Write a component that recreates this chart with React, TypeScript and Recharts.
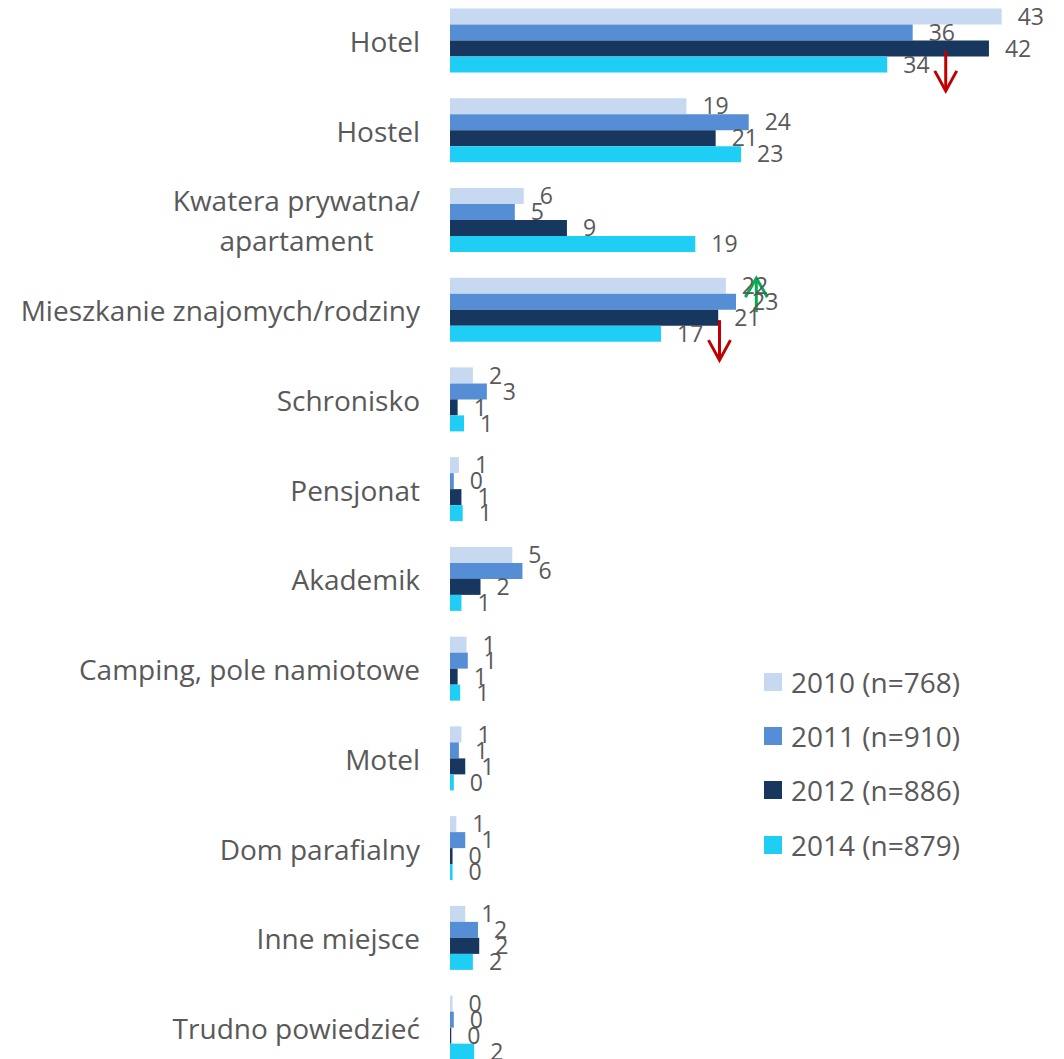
import React from 'react';
import { BarChart, Bar, XAxis, YAxis, LabelList, Legend, ReferenceDot } from 'recharts';

const categories = [
  'Hotel',
  'Hostel',
  'Kwatera prywatna/\napartament',
  'Mieszkanie znajomych/rodziny',
  'Schronisko',
  'Pensjonat',
  'Akademik',
  'Camping, pole namiotowe',
  'Motel',
  'Dom parafialny',
  'Inne miejsce',
  'Trudno powiedzieć',
];

const values2010 = [43.4, 18.6, 5.8, 21.7, 1.8, 0.7, 4.9, 1.3, 0.9, 0.5, 1.2, 0.2];
const values2011 = [36.4, 23.5, 5.1, 22.5, 2.9, 0.3, 5.7, 1.4, 0.7, 1.2, 2.2, 0.3];
const values2012 = [42.4, 20.9, 9.2, 21.1, 0.6, 0.9, 2.4, 0.6, 1.2, 0.2, 2.3, 0.1];
const values2014 = [34.4, 22.9, 19.3, 16.6, 1.1, 1.0, 0.9, 0.8, 0.3, 0.2, 1.8, 1.9];

const seriesKeys = ['y2010', 'y2011', 'y2012', 'y2014'];
const seriesNames = ['2010 (n=768)', '2011 (n=910)', '2012 (n=886)', '2014 (n=879)'];
const seriesColors = ['#C6D9F0', '#558ED5', '#17375E', '#1FCEF5'];

// change markers drawn over the bars
const arrowCategories = ['Hotel', 'Mieszkanie znajomych/rodziny', 'Mieszkanie znajomych/rodziny'];
const arrowValues = [39, 21.2, 24.1];
const arrowDirections = ['down', 'down', 'up'];

const data = categories.map((name, i) => ({
  name,
  y2010: values2010[i],
  y2011: values2011[i],
  y2012: values2012[i],
  y2014: values2014[i],
}));

const FONT = '"Open Sans", sans-serif';
const TEXT = '#595959';

let measureCtx: CanvasRenderingContext2D | null = null;
const textWidth = (t: string, font: string) => {
  if (!measureCtx) measureCtx = document.createElement('canvas').getContext('2d');
  if (!measureCtx) return t.length * 14;
  measureCtx.font = font;
  return measureCtx.measureText(t).width;
};

const CategoryTick = (props: any) => {
  const { x, y, payload } = props;
  const lines = String(payload.value).split('\n');
  if (lines.length === 1) {
    return (
      <text x={x} y={y} textAnchor="end" dominantBaseline="central" fill={TEXT} fontSize={28} fontFamily={FONT}>
        {lines[0]}
      </text>
    );
  }
  const w = Math.max(...lines.map((l) => textWidth(l, '28px "Open Sans"')));
  const cx = x - w / 2;
  return (
    <text textAnchor="middle" dominantBaseline="central" fill={TEXT} fontSize={28} fontFamily={FONT}>
      {lines.map((l, i) => (
        <tspan key={i} x={cx} y={y + (i - (lines.length - 1) / 2) * 40}>
          {l}
        </tspan>
      ))}
    </text>
  );
};

const Arrow = ({ cx, cy, dir }: any) => {
  if (cx == null || cy == null) return null;
  const color = dir === 'up' ? '#00B050' : '#C00000';
  const y1 = dir === 'up' ? cy + 2 : cy + 10;
  const y2 = dir === 'up' ? cy - 32 : cy + 50;
  const hy = dir === 'up' ? y2 + 19 : y2 - 20;
  return (
    <g>
      <line x1={cx} y1={y1} x2={cx} y2={y2} stroke={color} strokeWidth={3} />
      <polyline points={`${cx - 11},${hy} ${cx},${y2} ${cx + 11},${hy}`} fill="none" stroke={color} strokeWidth={3} />
    </g>
  );
};

const renderLegend = (props: any) => {
  const { payload } = props;
  return (
    <div>
      {(payload || []).map((p: any, i: number) => (
        <div key={i} style={{ display: 'flex', alignItems: 'center', height: 54.4 }}>
          <span style={{ display: 'inline-block', width: 18, height: 18, background: p.color, marginRight: 9 }} />
          <span style={{ fontSize: 28, color: TEXT, fontFamily: FONT, lineHeight: 1, whiteSpace: 'nowrap' }}>{p.value}</span>
        </div>
      ))}
    </div>
  );
};

export default function App() {
  return (
    <div style={{ position: 'absolute', left: 0, top: 0, width: 1064, height: 1059, overflow: 'hidden', background: '#fff' }}>
      <div style={{ position: 'absolute', left: 0, top: -4 }}>
        <BarChart
          width={1064}
          height={1077}
          data={data}
          layout="vertical"
          margin={{ top: 0, right: 42, bottom: 0, left: 0 }}
          barCategoryGap="13.8%"
          barGap={0}
        >
          <XAxis type="number" domain={[0, 45]} hide />
          <YAxis
            type="category"
            dataKey="name"
            width={450}
            axisLine={false}
            tickLine={false}
            tickSize={0}
            tickMargin={30}
            interval={0}
            tick={<CategoryTick />}
          />
          {seriesKeys.map((k, i) => (
            <Bar key={k} dataKey={k} name={seriesNames[i]} fill={seriesColors[i]} isAnimationActive={false}>
              <LabelList
                dataKey={k}
                position="right"
                offset={16}
                formatter={(v: any) => Math.round(Number(v))}
                fill={TEXT}
                fontSize={23}
                fontFamily={FONT}
              />
            </Bar>
          ))}
          {arrowCategories.map((c, i) => (
            <ReferenceDot
              key={i}
              x={arrowValues[i]}
              y={c}
              r={0}
              shape={(p: any) => <Arrow cx={p.cx} cy={p.cy} dir={arrowDirections[i]} />}
            />
          ))}
          <Legend
            layout="vertical"
            align="center"
            verticalAlign="middle"
            content={renderLegend}
            wrapperStyle={{ left: 764, top: 658.5, width: 260 }}
          />
        </BarChart>
      </div>
    </div>
  );
}
